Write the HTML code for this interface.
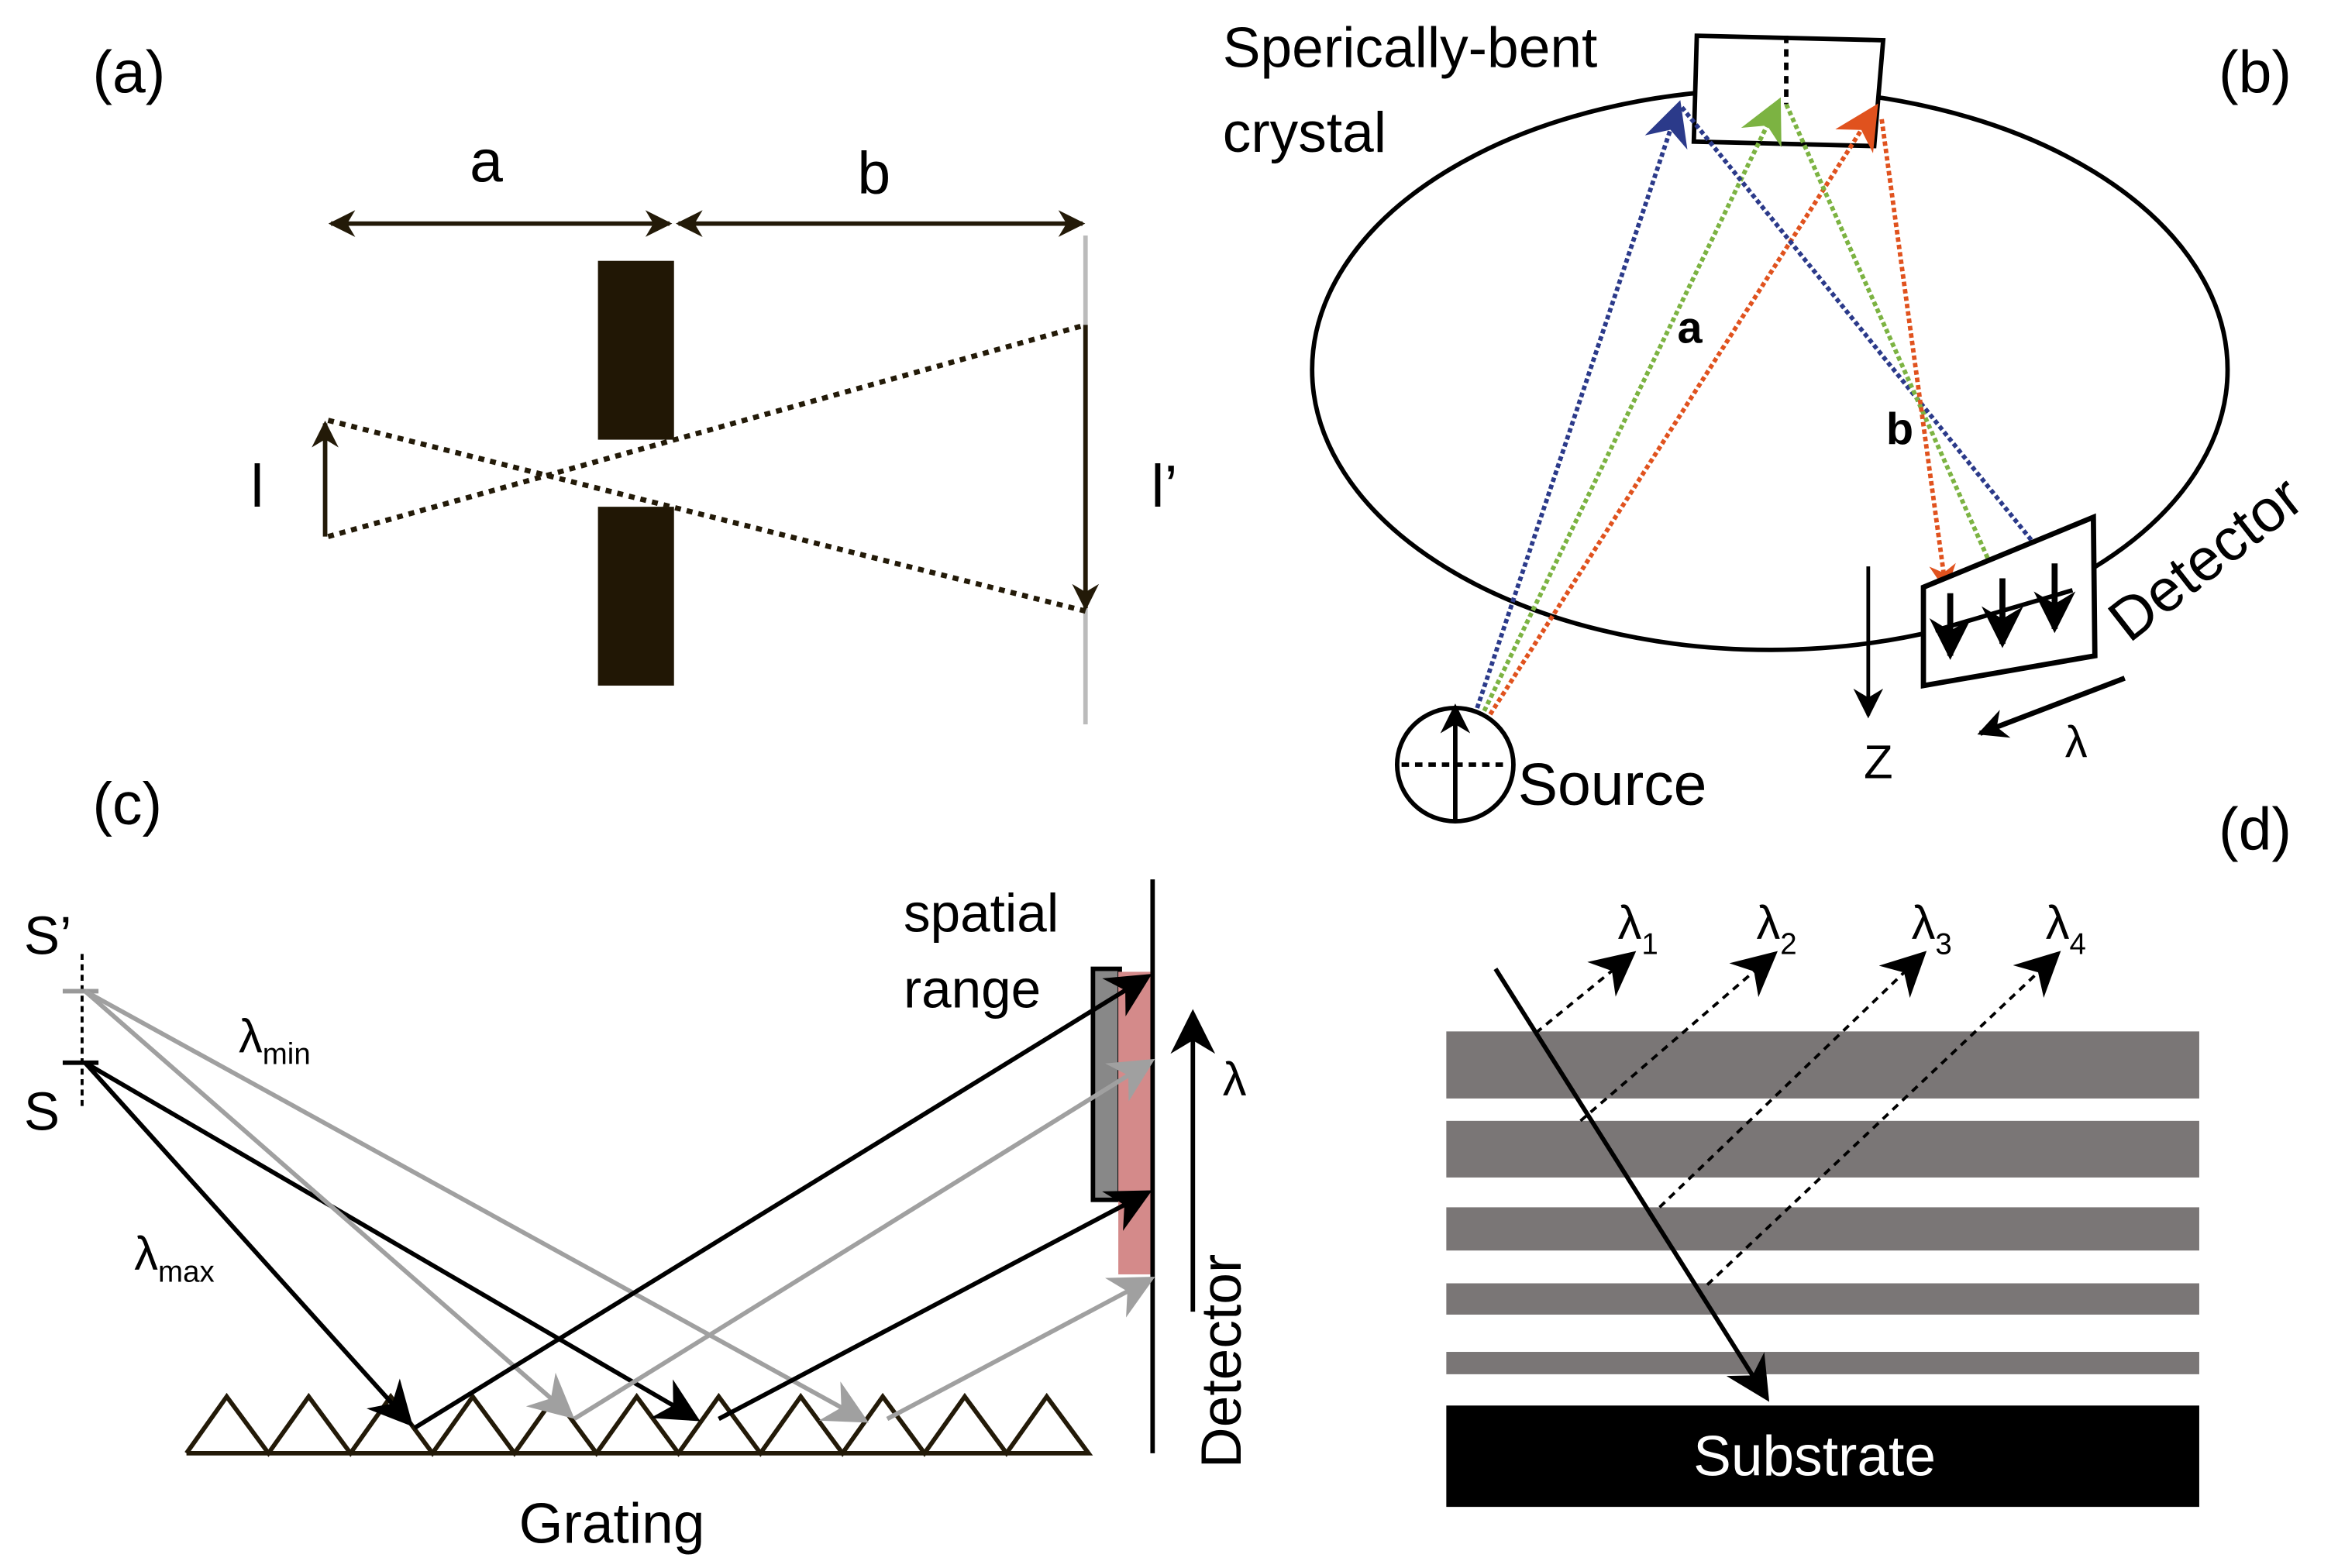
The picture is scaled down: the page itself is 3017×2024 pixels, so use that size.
<!DOCTYPE html>
<html><head><meta charset="utf-8"><style>
html,body{margin:0;padding:0;background:#fff;}
svg{display:block;}
text{font-family:"Liberation Sans",sans-serif;}
</style></head><body>
<svg width="3017" height="2024" viewBox="0 0 1568 1052" xmlns="http://www.w3.org/2000/svg">
<defs>
<marker id="ak" viewBox="0 0 10 10" refX="9" refY="5" markerWidth="18" markerHeight="18" orient="auto-start-reverse" markerUnits="userSpaceOnUse"><path d="M0,0 L10,5 L0,10 L3,5 z" fill="#231a08"/></marker>
<marker id="big" viewBox="0 0 10 10" refX="9" refY="5" markerWidth="30" markerHeight="30" orient="auto" markerUnits="userSpaceOnUse"><path d="M0,0 L10,5 L0,10 L3,5 z" fill="#000"/></marker>
<marker id="bigg" viewBox="0 0 10 10" refX="9" refY="5" markerWidth="30" markerHeight="30" orient="auto" markerUnits="userSpaceOnUse"><path d="M0,0 L10,5 L0,10 L3,5 z" fill="#a0a0a0"/></marker>
<marker id="mk" viewBox="0 0 10 10" refX="9" refY="5" markerWidth="20" markerHeight="20" orient="auto" markerUnits="userSpaceOnUse"><path d="M0,0 L10,5 L0,10 L3,5 z" fill="#000"/></marker>
<marker id="mb" viewBox="0 0 10 10" refX="9" refY="5" markerWidth="18" markerHeight="18" orient="auto" markerUnits="userSpaceOnUse"><path d="M0,0 L10,5 L0,10 L3,5 z" fill="#2b3a8a"/></marker>
<marker id="mg" viewBox="0 0 10 10" refX="9" refY="5" markerWidth="18" markerHeight="18" orient="auto" markerUnits="userSpaceOnUse"><path d="M0,0 L10,5 L0,10 L3,5 z" fill="#7cb342"/></marker>
<marker id="mr" viewBox="0 0 10 10" refX="9" refY="5" markerWidth="18" markerHeight="18" orient="auto" markerUnits="userSpaceOnUse"><path d="M0,0 L10,5 L0,10 L3,5 z" fill="#e0521e"/></marker>
<marker id="sb" viewBox="0 0 10 10" refX="9" refY="5" markerWidth="30" markerHeight="30" orient="auto" markerUnits="userSpaceOnUse"><path d="M0,0 L10,5 L0,10 L3,5 z" fill="#2b3a8a"/></marker>
<marker id="sg" viewBox="0 0 10 10" refX="9" refY="5" markerWidth="30" markerHeight="30" orient="auto" markerUnits="userSpaceOnUse"><path d="M0,0 L10,5 L0,10 L3,5 z" fill="#7cb342"/></marker>
<marker id="sr" viewBox="0 0 10 10" refX="9" refY="5" markerWidth="30" markerHeight="30" orient="auto" markerUnits="userSpaceOnUse"><path d="M0,0 L10,5 L0,10 L3,5 z" fill="#e0521e"/></marker>
<marker id="md" viewBox="0 0 10 10" refX="9" refY="5" markerWidth="28" markerHeight="28" orient="auto" markerUnits="userSpaceOnUse"><path d="M0,0 L10,5 L0,10 L3,5 z" fill="#000"/></marker>
</defs>

<!-- Panel a -->
<text x="62" y="62" font-size="40">(a)</text>
<text x="315" y="122" font-size="40">a</text>
<text x="575" y="130" font-size="40">b</text>
<line x1="222" y1="150" x2="449" y2="150" stroke="#231a08" stroke-width="3" marker-start="url(#ak)" marker-end="url(#ak)"/>
<line x1="455" y1="150" x2="726" y2="150" stroke="#231a08" stroke-width="3" marker-start="url(#ak)" marker-end="url(#ak)"/>
<rect x="401" y="175" width="51" height="120" fill="#211705"/>
<rect x="401" y="340" width="51" height="120" fill="#211705"/>
<line x1="728" y1="158" x2="728" y2="486" stroke="#bbb" stroke-width="3"/>
<line x1="220" y1="282" x2="728" y2="410" stroke="#231a08" stroke-width="3.5" stroke-dasharray="4,4"/>
<line x1="220" y1="360" x2="728" y2="218" stroke="#231a08" stroke-width="3.5" stroke-dasharray="4,4"/>
<line x1="218" y1="360" x2="218" y2="284" stroke="#231a08" stroke-width="3" marker-end="url(#ak)"/>
<line x1="728" y1="218" x2="728" y2="408" stroke="#231a08" stroke-width="3" marker-end="url(#ak)"/>
<text x="168" y="340" font-size="40">l</text>
<text x="772" y="340" font-size="40">l’</text>

<!-- Panel b -->
<text x="1488" y="62" font-size="40">(b)</text>
<text x="820" y="45" font-size="38">Sperically-bent</text>
<text x="820" y="102" font-size="38">crystal</text>
<ellipse cx="1187" cy="248" rx="307" ry="188" fill="none" stroke="#000" stroke-width="3"/>
<path d="M1138,24 L1263,27 L1257,98 L1136,95 Z" fill="#fff" stroke="#000" stroke-width="3"/>
<line x1="1198" y1="24" x2="1198" y2="70" stroke="#000" stroke-width="3" stroke-dasharray="5,4"/>
<line x1="978" y1="513" x2="1126" y2="70" stroke="#2b3a8a" stroke-width="3" stroke-dasharray="3,2" marker-end="url(#sb)"/>
<line x1="978" y1="513" x2="1193" y2="68" stroke="#7cb342" stroke-width="3" stroke-dasharray="3,2" marker-end="url(#sg)"/>
<line x1="978" y1="513" x2="1258" y2="72" stroke="#e0521e" stroke-width="3" stroke-dasharray="3,2" marker-end="url(#sr)"/>
<line x1="1128" y1="72" x2="1375" y2="378" stroke="#2b3a8a" stroke-width="3" stroke-dasharray="3,2" marker-end="url(#mb)"/>
<line x1="1198" y1="70" x2="1340" y2="390" stroke="#7cb342" stroke-width="3" stroke-dasharray="3,2" marker-end="url(#mg)"/>
<line x1="1262" y1="80" x2="1305" y2="395" stroke="#e0521e" stroke-width="3" stroke-dasharray="3,2" marker-end="url(#mr)"/>
<text x="1125" y="230" font-size="30" font-weight="bold" font-family="Liberation Serif, serif">a</text>
<text x="1265" y="298" font-size="30" font-weight="bold" font-family="Liberation Serif, serif">b</text>
<path d="M1290,394 L1404,347 L1405,440 L1290,460 Z" fill="#fff" stroke="#000" stroke-width="3.5"/>
<line x1="1298" y1="423" x2="1390" y2="396" stroke="#000" stroke-width="3"/>
<line x1="1308" y1="398" x2="1308" y2="440" stroke="#000" stroke-width="4" marker-end="url(#md)"/>
<line x1="1343" y1="388" x2="1343" y2="432" stroke="#000" stroke-width="4" marker-end="url(#md)"/>
<line x1="1378" y1="378" x2="1378" y2="422" stroke="#000" stroke-width="4" marker-end="url(#md)"/>
<line x1="1253" y1="380" x2="1253" y2="480" stroke="#000" stroke-width="2.5" marker-end="url(#mk)"/>
<line x1="1425" y1="455" x2="1328" y2="492" stroke="#000" stroke-width="3.5" marker-end="url(#mk)"/>
<text x="1250" y="522" font-size="32">Z</text>
<text x="1385" y="508" font-size="30">λ</text>
<text x="0" y="0" font-size="40" transform="translate(1428,432) rotate(-38)">Detector</text>
<ellipse cx="976" cy="513" rx="39" ry="38" fill="#fff" stroke="#000" stroke-width="3"/>
<line x1="940" y1="513" x2="1012" y2="513" stroke="#000" stroke-width="3" stroke-dasharray="5,4"/>
<line x1="976" y1="551" x2="976" y2="474" stroke="#000" stroke-width="3" marker-end="url(#mk)"/>
<text x="1018" y="540" font-size="40">Source</text>

<!-- Panel c -->
<text x="62" y="553" font-size="40">(c)</text>
<text x="16" y="640" font-size="36">S’</text>
<text x="16" y="758" font-size="36">S</text>
<line x1="55" y1="640" x2="55" y2="745" stroke="#000" stroke-width="2" stroke-dasharray="4,3"/>
<line x1="42" y1="665" x2="66" y2="665" stroke="#999" stroke-width="3"/>
<line x1="42" y1="713" x2="66" y2="713" stroke="#000" stroke-width="3"/>
<polyline points="125,975 152,937 180,975 207,937 235,975 262,937 290,975 317,937 345,975 372,937 400,975 427,937 455,975 482,937 510,975 537,937 565,975 592,937 620,975 647,937 675,975 702,937 730,975 125,975" fill="none" stroke="#231a08" stroke-width="3"/>
<text x="348" y="1035" font-size="38">Grating</text>
<rect x="733" y="650" width="18" height="155" fill="#888" stroke="#000" stroke-width="3"/>
<rect x="750" y="652" width="22" height="203" fill="#d48a8a"/>
<line x1="773" y1="590" x2="773" y2="975" stroke="#000" stroke-width="3"/>
<text x="606" y="625" font-size="36">spatial</text>
<text x="606" y="676" font-size="36">range</text>
<line x1="800" y1="880" x2="800" y2="680" stroke="#000" stroke-width="3" marker-end="url(#big)"/>
<text x="820" y="735" font-size="32">λ</text>
<text x="0" y="0" font-size="38" transform="translate(832,985) rotate(-90)">Detector</text>
<g stroke-width="3" fill="none">
<line x1="57" y1="713" x2="275" y2="955" stroke="#000" marker-end="url(#big)"/>
<line x1="57" y1="713" x2="467" y2="952" stroke="#000" marker-end="url(#big)"/>
<line x1="57" y1="665" x2="383" y2="950" stroke="#a0a0a0" marker-end="url(#bigg)"/>
<line x1="57" y1="665" x2="580" y2="953" stroke="#a0a0a0" marker-end="url(#bigg)"/>
<line x1="278" y1="958" x2="770" y2="655" stroke="#000" marker-end="url(#big)"/>
<line x1="482" y1="952" x2="770" y2="800" stroke="#000" marker-end="url(#big)"/>
<line x1="385" y1="952" x2="772" y2="712" stroke="#a0a0a0" marker-end="url(#bigg)"/>
<line x1="595" y1="952" x2="772" y2="858" stroke="#a0a0a0" marker-end="url(#bigg)"/>
</g>
<text x="160" y="706" font-size="32">λ<tspan font-size="20" dy="8">min</tspan></text>
<text x="90" y="852" font-size="32">λ<tspan font-size="20" dy="8">max</tspan></text>

<!-- Panel d -->
<text x="1488" y="570" font-size="40">(d)</text>
<rect x="970" y="692" width="505" height="45" fill="#7a7676"/>
<rect x="970" y="752" width="505" height="38" fill="#7a7676"/>
<rect x="970" y="810" width="505" height="29" fill="#7a7676"/>
<rect x="970" y="861" width="505" height="21" fill="#7a7676"/>
<rect x="970" y="907" width="505" height="15" fill="#7a7676"/>
<rect x="970" y="943" width="505" height="68" fill="#000"/>
<text x="1217" y="990" font-size="38" fill="#fff" text-anchor="middle">Substrate</text>
<g stroke="#000" stroke-width="2" stroke-dasharray="5,4">
<line x1="1030" y1="693" x2="1095" y2="640" marker-end="url(#big)"/>
<line x1="1060" y1="752" x2="1190" y2="640" marker-end="url(#big)"/>
<line x1="1113" y1="810" x2="1290" y2="640" marker-end="url(#big)"/>
<line x1="1145" y1="862" x2="1380" y2="640" marker-end="url(#big)"/>
</g>
<line x1="1003" y1="650" x2="1185" y2="938" stroke="#000" stroke-width="3" marker-end="url(#big)"/>
<text x="1085" y="630" font-size="32">λ<tspan font-size="20" dy="10">1</tspan></text>
<text x="1178" y="630" font-size="32">λ<tspan font-size="20" dy="10">2</tspan></text>
<text x="1282" y="630" font-size="32">λ<tspan font-size="20" dy="10">3</tspan></text>
<text x="1372" y="630" font-size="32">λ<tspan font-size="20" dy="10">4</tspan></text>
</svg>
</body></html>
